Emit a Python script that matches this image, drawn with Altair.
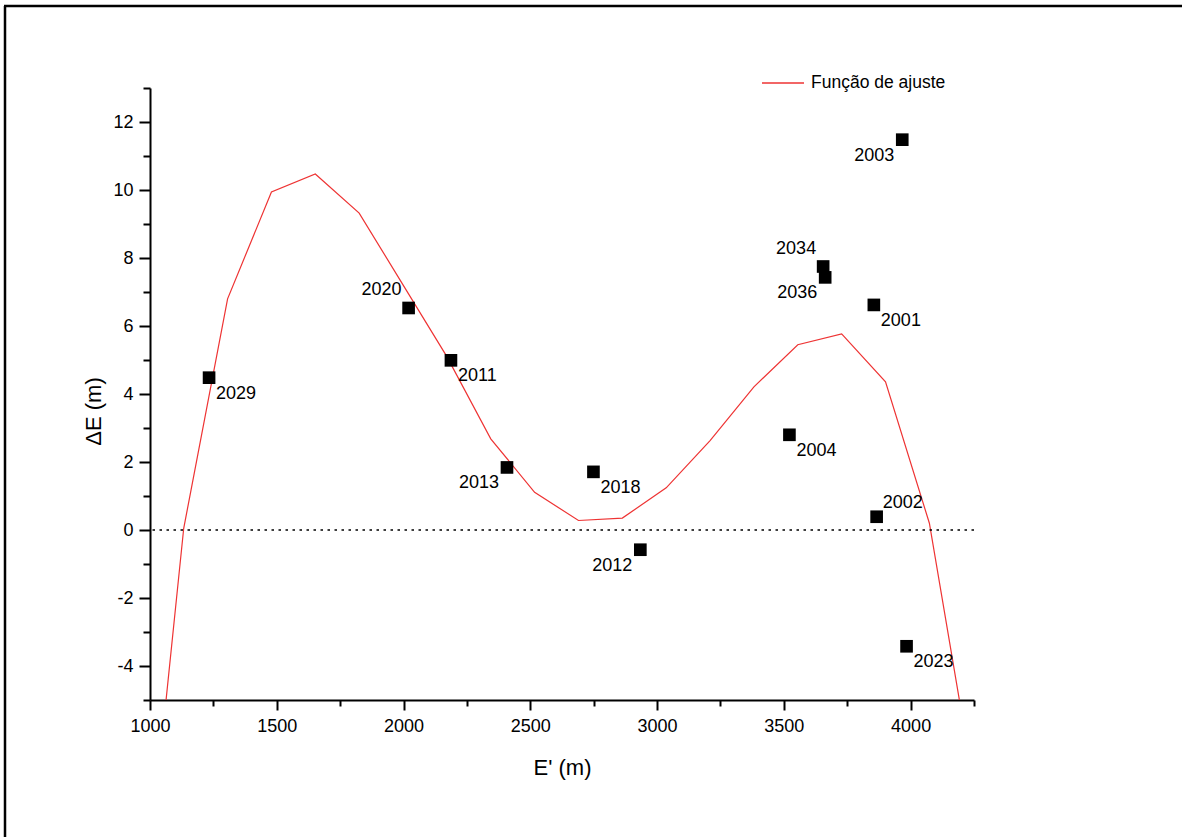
import altair as alt
import pandas as pd

# Fitted curve vertices (E' in m, ΔE in m)
fit_x = [960, 1133, 1306, 1479, 1652, 1825, 1998, 2171, 2344, 2517,
         2690, 2863, 3036, 3209, 3382, 3555, 3728, 3901, 4074, 4247]
fit_y = [-12.5, 0.05, 6.80, 9.94, 10.47, 9.32, 7.21, 5.10, 2.68, 1.11,
         0.28, 0.35, 1.24, 2.63, 4.21, 5.45, 5.77, 4.36, 0.20, -7.40]

# Observed stations
station = ["2029", "2020", "2011", "2013", "2018", "2012", "2004",
           "2034", "2036", "2001", "2003", "2002", "2023"]
e_prime = [1233, 2020, 2187, 2408, 2749, 2934, 3522,
           3655, 3663, 3855, 3967, 3866, 3984]
delta_e = [4.48, 6.53, 4.99, 1.84, 1.71, -0.58, 2.80,
           7.75, 7.43, 6.62, 11.48, 0.39, -3.42]
# Where each station label sits relative to its marker
label_side = ["br", "tl", "br", "bl", "br", "bl", "br",
              "tl", "bl", "br", "bl", "tr", "br"]

FONT = "Liberation Sans"
RED = "#ee3333"

fit = pd.DataFrame({"x": fit_x, "y": fit_y, "serie": "Função de ajuste"})
pts = pd.DataFrame({"x": e_prime, "y": delta_e, "id": station, "side": label_side})

xscale = alt.Scale(domain=[1000, 4250], nice=False, zero=False)
yscale = alt.Scale(domain=[-5, 13], nice=False, zero=False)

x_axis = alt.Axis(
    title="E' (m)",
    values=list(range(1000, 4251, 250)),
    labelExpr="datum.value % 500 === 0 ? '' + datum.value : ''",
    tickSize={"condition": {"test": "datum.value % 500 !== 0", "value": 6}, "value": 10},
    labelPadding=7,
    labelOverlap=False,
    labelFlush=False,
    titleBaseline="alphabetic",
    titleY=74,
)
y_axis = alt.Axis(
    title="ΔE (m)",
    values=list(range(-5, 14)),
    labelExpr="datum.value % 2 === 0 ? '' + datum.value : ''",
    tickSize={"condition": {"test": "datum.value % 2 !== 0", "value": 7}, "value": 11},
    labelPadding=6,
    labelOverlap=False,
    labelFlush=False,
    titleBaseline="alphabetic",
    titleX=-50,
    titleY=323,
)

X = alt.X("x:Q", scale=xscale, axis=x_axis)
Y = alt.Y("y:Q", scale=yscale, axis=y_axis)

curve = alt.Chart(fit).mark_line(clip=True, strokeWidth=1.2).encode(
    x=X,
    y=Y,
    color=alt.Color(
        "serie:N",
        scale=alt.Scale(range=[RED]),
        legend=alt.Legend(
            title=None,
            orient="none",
            legendX=611,
            legendY=-27,
            symbolType="stroke",
            symbolSize=1764,
            symbolStrokeWidth=1.5,
            labelFont=FONT,
            labelFontSize=17.5,
            labelColor="black",
            labelOffset=6,
            padding=0,
        ),
    ),
)

zero = alt.Chart(pd.DataFrame({"y": [0]})).mark_rule(
    color="black", strokeWidth=1.6, strokeDash=[2.5, 4.5]
).encode(y=Y)

squares = alt.Chart(pts).mark_square(size=160, color="black", opacity=1).encode(
    x=X,
    y=Y,
)

placements = {
    "br": ("left", 7, 16),
    "bl": ("right", -8, 16),
    "tl": ("right", -7, -18),
    "tr": ("left", 6, -14),
}
labels = [
    alt.Chart(pts).transform_filter(alt.datum.side == side).mark_text(
        align=align, baseline="middle", dx=dx, dy=dy,
        font=FONT, fontSize=18, color="black",
    ).encode(
        x=X,
        y=Y,
        text="id:N",
    )
    for side, (align, dx, dy) in placements.items()
]

# Page frame (left and top edges)
frame_left = alt.Chart(pd.DataFrame({"k": [0]})).mark_rule(
    color="black", strokeWidth=2.5
).encode(x=alt.value(-145), y=alt.value(-82), y2=alt.value(749))
frame_top = alt.Chart(pd.DataFrame({"k": [0]})).mark_rule(
    color="black", strokeWidth=2.5
).encode(x=alt.value(-146), x2=alt.value(1032), y=alt.value(-82))

chart = alt.layer(
    curve, zero, squares, *labels, frame_left, frame_top
).properties(
    width=824,
    height=612,
    autosize=alt.AutoSizeParams(type="none"),
    padding={"left": 150, "top": 88, "right": 208, "bottom": 137},
    background="white",
).configure_view(
    stroke=None
).configure_axis(
    domainColor="black",
    domainWidth=2,
    tickColor="black",
    tickWidth=2,
    grid=False,
    labelFont=FONT,
    labelFontSize=18,
    labelColor="black",
    titleFont=FONT,
    titleFontSize=22,
    titleFontWeight="normal",
    titleColor="black",
)

chart.save("out.html", embed_options={"renderer": "svg", "actions": False})
